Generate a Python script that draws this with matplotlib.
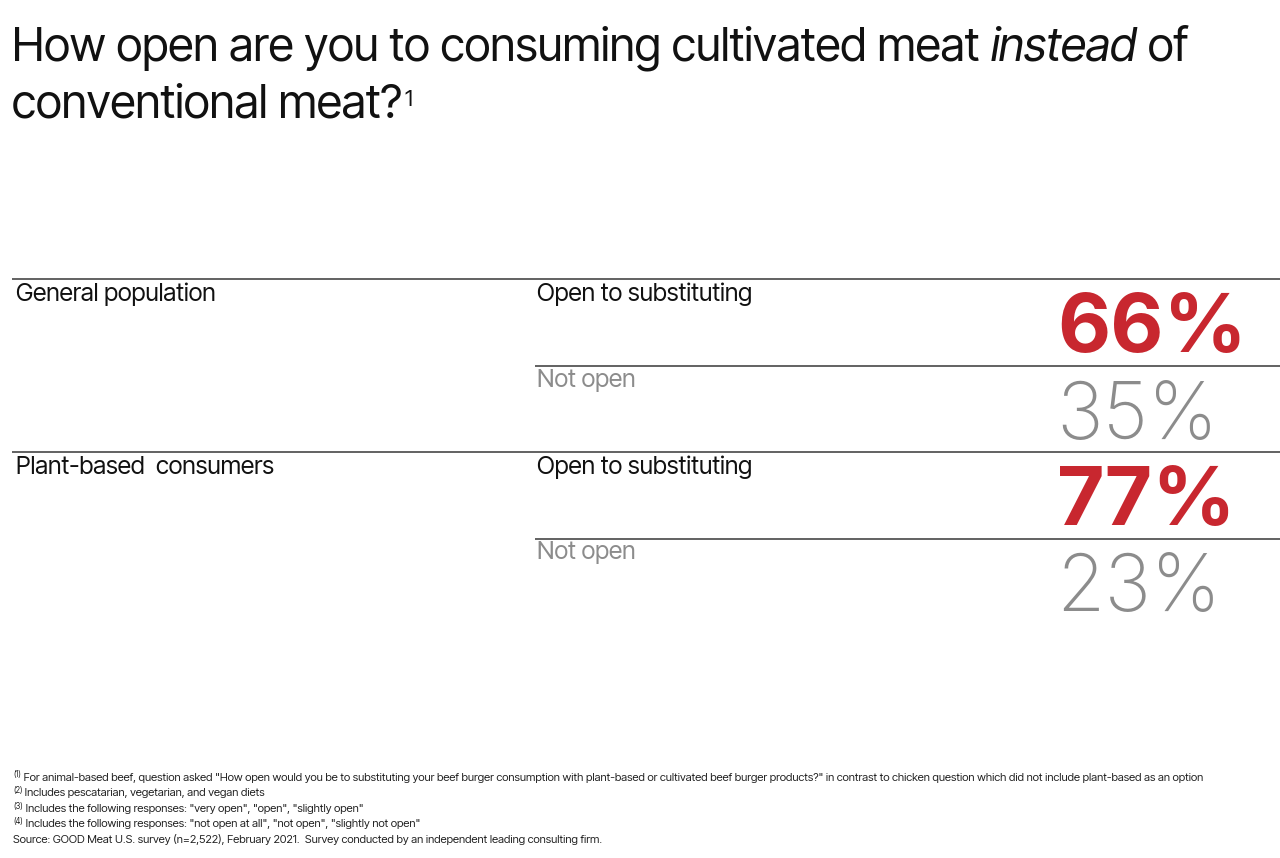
import matplotlib
matplotlib.use("Agg")
import matplotlib.pyplot as plt

groups = ["General population", "Plant-based  consumers"]
open_labels = ["Open to substituting", "Open to substituting"]
not_open_labels = ["Not open", "Not open"]
open_pct = [66, 77]
not_open_pct = [35, 23]

title_parts = [("How open are you to consuming cultivated meat ", "normal"),
               ("instead", "italic"), (" of", "normal")]
title_line2 = "conventional meat?"
title_note = "1"
footnotes = [
    ("(1)", " For animal-based beef, question asked \"How open would you be to substituting your beef burger consumption with plant-based or cultivated beef burger products?\" in contrast to chicken question which did not include plant-based as an option"),
    ("(2)", " Includes pescatarian, vegetarian, and vegan diets"),
    ("(3)", " Includes the following responses: \"very open\", \"open\", \"slightly open\""),
    ("(4)", " Includes the following responses: \"not open at all\", \"not open\", \"slightly not open\""),
    ("", "Source: GOOD Meat U.S. survey (n=2,522), February 2021.  Survey conducted by an independent leading consulting firm."),
]

TXT = ["Inter Tight", "Liberation Sans", "DejaVu Sans"]
NUM = ["Inter", "Liberation Sans", "DejaVu Sans"]

RED = "#C8272F"
GRAY = "#8C8C8C"
LINE = "#555555"
INK = "#111111"

fig = plt.figure(figsize=(12.8, 8.58), dpi=100)
ax = fig.add_axes([0, 0, 1, 1])
ax.set_xlim(0, 1280)
ax.set_ylim(858, 0)
ax.axis("off")

# Title
TS = 33.6
t = ax.text(12, 60, title_parts[0][0], fontsize=TS, family=TXT, color=INK, va="baseline")
prev = t
for txt, style in title_parts[1:]:
    prev = ax.annotate(txt, xy=(1, 0), xycoords=prev, fontsize=TS, family=TXT,
                       style=style, color=INK, va="bottom")
t2 = ax.text(12, 118, title_line2, fontsize=TS, family=TXT, color=INK, va="baseline")
ax.annotate(title_note, xy=(1, 0.40), xycoords=t2, xytext=(1.5, 0), textcoords="offset points",
            fontsize=16, family=TXT, color=INK, va="bottom")

# Table
row_top = 279
row_h = 86.5
LS = 17.8
for i, g in enumerate(groups):
    y0 = row_top + i * 2 * row_h
    y1 = y0 + row_h
    ax.plot([12, 1280], [y0, y0], color=LINE, lw=1.3, solid_capstyle="butt")
    ax.plot([535, 1280], [y1, y1], color=LINE, lw=1.3, solid_capstyle="butt")
    ax.text(16, y0 + 22, g, fontsize=LS, family=TXT, color=INK, va="baseline")
    ax.text(537, y0 + 22, open_labels[i], fontsize=LS, family=TXT, color=INK, va="baseline")
    ax.text(537, y1 + 21, not_open_labels[i], fontsize=LS, family=TXT, color=GRAY, va="baseline")
    ax.text(1057, y0 + 73, f"{open_pct[i]}%", fontsize=59, family=NUM,
            weight="bold", color=RED, va="baseline")
    ax.text(1056, y1 + 73, f"{not_open_pct[i]}%", fontsize=56.5, family=NUM,
            weight=200, color=GRAY, va="baseline")

# Footnotes
fy = 780.5
for k, (sup, body) in enumerate(footnotes):
    y = fy + k * 15.6
    if sup:
        s = ax.text(13, y - 3, sup, fontsize=5.8, family=TXT, color="#222222", va="baseline")
        ax.annotate(body, xy=(1, 0), xycoords=s, xytext=(0, -2.2), textcoords="offset points",
                    fontsize=8.2, family=TXT, color="#222222", va="bottom")
    else:
        ax.text(13, y, body, fontsize=8.2, family=TXT, color="#222222", va="baseline")

fig.savefig("out.png", dpi=100, facecolor="white")
